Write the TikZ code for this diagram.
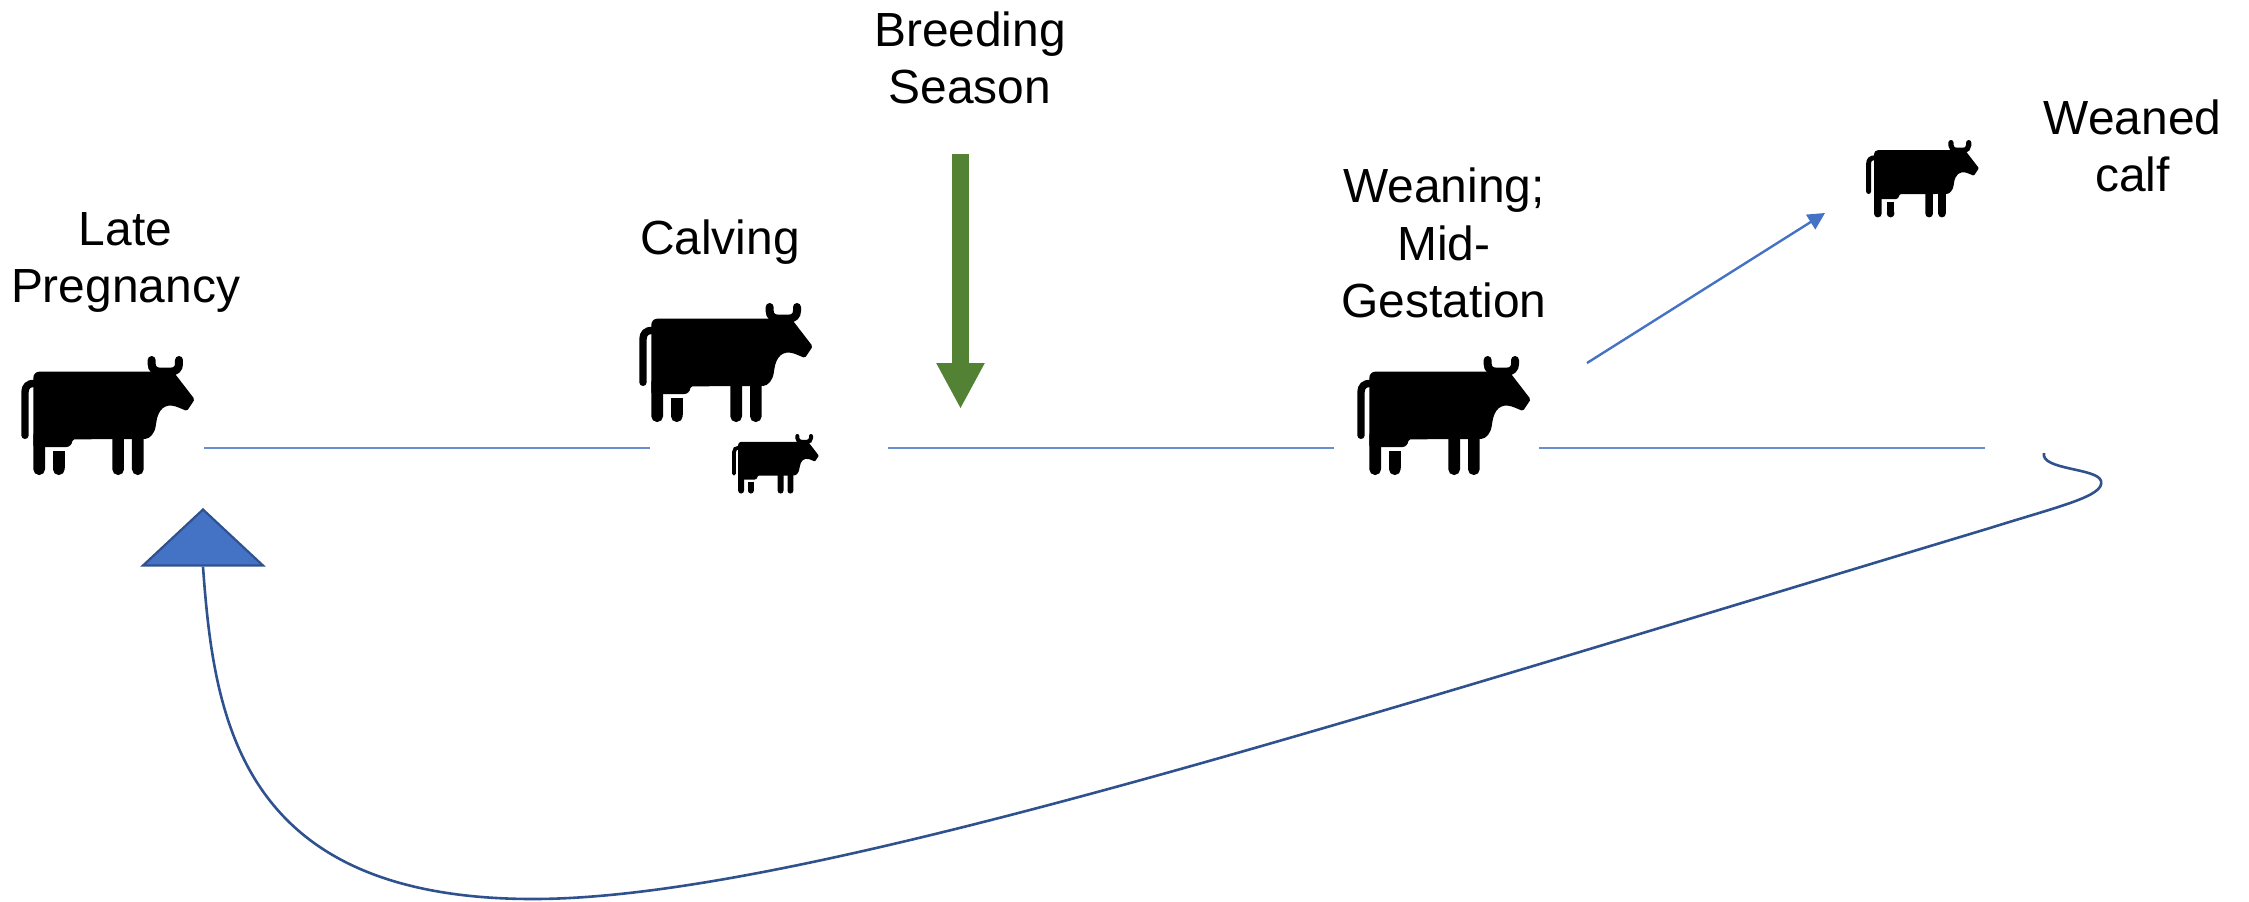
\documentclass[tikz,border=0pt]{standalone}
\usepackage{fontspec}
\setmainfont{Liberation Sans}
\usepackage{xcolor}
\usetikzlibrary{arrows.meta, shapes.geometric}
\definecolor{lineblue}{HTML}{4472C4}
\definecolor{darkblue}{HTML}{2F528F}
\definecolor{seasongreen}{HTML}{548235}

\begin{document}
\begin{tikzpicture}[
                    x=1pt, y=-1pt,
                    label/.style={
                        align=center,
                        inner sep=0pt,
                        font=\fontsize{47.9}{57.4}\selectfont
                    },
                    stage/.style={
                        lineblue!80,
                        line width=1.8pt
                    },
                    arrow/.style={
                        -{Triangle[length=17pt,width=17pt]},
                        lineblue,
                        line width=2.4pt
                    },
                    season/.style={
                        -{Triangle[length=46pt,width=45pt]},
                        seasongreen,
                        line width=16.3pt
                    },
                    return/.style={
                        darkblue,
                        line width=2.6pt
                    },
                    marker/.style={
                        draw=darkblue,
                        fill=lineblue,
                        line width=2.2pt,
                        isosceles triangle,
                        isosceles triangle apex angle=94,
                        isosceles triangle stretches,
                        shape border rotate=90,
                        minimum width=120pt,
                        minimum height=56pt,
                        inner sep=0pt
                    },
                    pics/cow/.style={
                        code={
                            \begin{scope}[scale=#1/3, shift={(-63,-80)}]
                                % body and head
                                \fill[black] (100,353) [rounded corners=#1*6pt] -- (100,127) -- (300,127)
                                    [rounded corners=#1*1.6pt] -- (520,127) -- (584,210) -- (561,245) -- (532,233)
                                    .. controls (495,221) and (474,240) .. (468,285)
                                    .. controls (464,312) and (450,328) .. (431,329)
                                    -- (218,330) .. controls (216,345) and (208,353) .. (195,353)
                                    -- cycle;
                                % legs
                                \foreach \legx in {100,337,396}
                                    \fill[black, rounded corners=#1*5.6pt] (\legx,300) -- ++(35,0) -- (\legx+35,437) -- (\legx,437) -- cycle;
                                \fill[black, rounded corners=#1*5.6pt] (159,400) -- (194,400) -- (194,437) -- (159,437) -- cycle;
                                \fill[black] (159,366) rectangle (194,415);
                                % tail and horns
                                \draw[black, line width=#1*7.4pt, line cap=round] (102,162) .. controls (85,162) and (75,172) .. (75,188) -- (75,318);
                                \draw[black, line width=#1*8pt, line cap=round] (455,92) -- (455,104) .. controls (455,118) and (465,127) .. (480,127)
                                    -- (512,127) .. controls (527,127) and (537,118) .. (537,104) -- (537,92);
                            \end{scope}
                        }
                    }
                ]

                % page size
                \useasboundingbox (0,0) rectangle (2249,902);

                % labels
                \node[label] (breeding) at (970,58) {Breeding\\Season};
                \node[label] (late) at (125.5,262.5) {Late\\Pregnancy};
                \node[label] (calving) at (720,242) {Calving};
                \node[label] (weaning) at (1444,243) {Weaning;\\Mid-\\Gestation};
                \node[label] (weaned) at (2132.5,146) {Weaned\\calf};

                % cows
                \pic (cowlate) at (21,356) {cow=1};
                \pic (cowcalving) at (639,303) {cow=1};
                \pic (calfnew) at (732,434) {cow=0.5};
                \pic (cowweaning) at (1357,356) {cow=1};
                \pic (calfweaned) at (1866,140) {cow=0.65};

                % free ends
                \coordinate (a1) at (204,448);
                \coordinate (a2) at (650,448);
                \coordinate (b1) at (888,448);
                \coordinate (b2) at (1334,448);
                \coordinate (c1) at (1539,448);
                \coordinate (c2) at (1985,448);
                \coordinate (w1) at (1587,363);
                \coordinate (w2) at (1825,213);
                \coordinate (s1) at (960.5,154);
                \coordinate (s2) at (960.5,409);
                \coordinate (e1) at (2044,453);

                % timeline
                \draw[stage] (a1) -- (a2);
                \draw[stage] (b1) -- (b2);
                \draw[stage] (c1) -- (c2);

                % arrows
                \draw[arrow] (w1) -- (w2);
                \draw[season] (s1) -- (s2);

                % return to late pregnancy
                \node[marker, anchor=apex] (start) at (203,508) {};
                \draw[return] (start.lower side) .. controls (214,720) and (240,899) .. (533,899)
                    .. controls (790,899) and (1300,736) .. (1990,528)
                    .. controls (2060,506) and (2105,496) .. (2101,481)
                    .. controls (2098,468) and (2040,470) .. (e1);
            \end{tikzpicture}
\end{document}
